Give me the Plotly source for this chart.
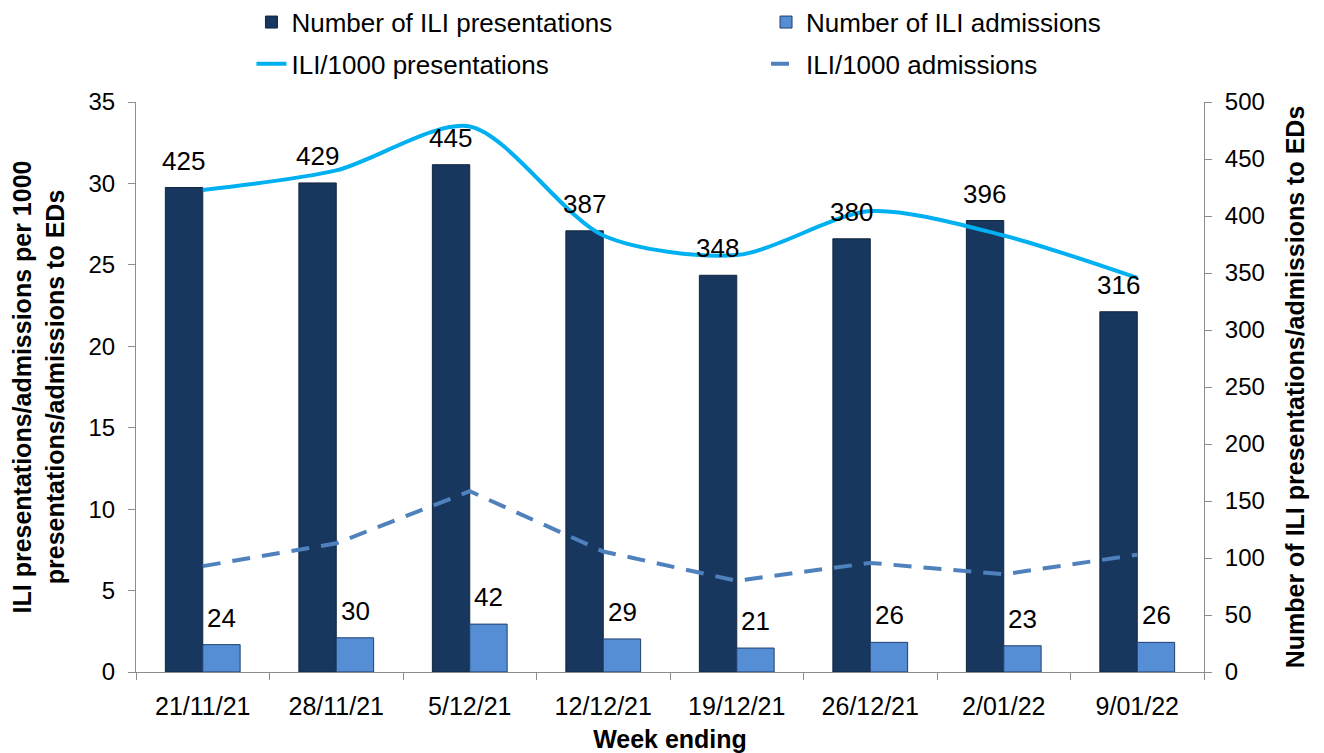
import plotly.graph_objects as go

weeks = ['21/11/21', '28/11/21', '5/12/21', '12/12/21', '19/12/21', '26/12/21', '2/01/22', '9/01/22']
presentations = [425, 429, 445, 387, 348, 380, 396, 316]
admissions = [24, 30, 42, 29, 21, 26, 23, 26]
rate_presentations = [29.6, 30.8, 33.5, 26.8, 25.6, 28.3, 26.8, 24.2]
rate_admissions = [6.5, 7.9, 11.1, 7.4, 5.6, 6.7, 6.0, 7.2]

DARK = '#17375E'
LIGHT = '#558ED5'
FONT = 'Liberation Sans, Arial, sans-serif'

fig = go.Figure()

# bars on the right-hand axis (yaxis, side right) so the lines draw above them
fig.add_trace(go.Bar(x=weeks, y=presentations, name='Number of ILI presentations',
                     marker=dict(color=DARK, line=dict(color='#10263F', width=1)),
                     legend='legend'))
fig.add_trace(go.Bar(x=weeks, y=admissions, name='Number of ILI admissions',
                     marker=dict(color=LIGHT, line=dict(color='#1F3F6E', width=1)),
                     legend='legend2'))

fig.add_trace(go.Scatter(x=weeks, y=rate_presentations, name='ILI/1000 presentations',
                         mode='lines', yaxis='y2', legend='legend3',
                         line=dict(color='#00B0F0', width=4, shape='spline', smoothing=0.8)))
fig.add_trace(go.Scatter(x=weeks, y=rate_admissions, name='ILI/1000 admissions',
                         mode='lines', yaxis='y2', legend='legend4',
                         line=dict(color='#4F81BD', width=4, dash='18px,12px')))

# data labels above each bar
for w, v in zip(weeks, presentations):
    fig.add_annotation(x=w, y=v, xref='x', yref='y', text=str(v), showarrow=False,
                       xshift=-19, yshift=10, yanchor='bottom',
                       font=dict(size=26, color='black', family=FONT))
for w, v in zip(weeks, admissions):
    fig.add_annotation(x=w, y=v, xref='x', yref='y', text=str(v), showarrow=False,
                       xshift=19, yshift=10, yanchor='bottom',
                       font=dict(size=26, color='black', family=FONT))

axis_common = dict(showgrid=False, zeroline=False, showline=True, linecolor='#8C8C8C',
                   linewidth=1, ticks='outside', ticklen=7, tickcolor='#8C8C8C',
                   automargin=False)


def legend_box(x, y):
    return dict(orientation='h', x=x, y=y, xref='container', yref='container',
                xanchor='left', yanchor='middle', bgcolor='rgba(0,0,0,0)',
                font=dict(size=26, family=FONT, color='black'))


# page body has an 8px margin, so the figure is a little smaller than the window
fig.update_layout(
    width=1316, height=745,
    margin=dict(l=128, r=120, t=94, b=81),
    plot_bgcolor='white', paper_bgcolor='white',
    font=dict(family=FONT, color='black'),
    showlegend=True,
    barmode='group', bargap=0.44, bargroupgap=0,
    xaxis=dict(**axis_common, tickson='boundaries', ticklabelstandoff=12,
               tickfont=dict(size=25, color='black', family=FONT),
               title=dict(text='<b>Week ending</b>', font=dict(size=25), standoff=12)),
    yaxis=dict(**axis_common, side='right', range=[0, 500], dtick=50, ticklabelstandoff=8,
               tickfont=dict(size=24, color='black', family=FONT),
               title=dict(text='<b>Number of ILI presentations/admissions to EDs</b>',
                          font=dict(size=25), standoff=22)),
    yaxis2=dict(**axis_common, side='left', overlaying='y', range=[0, 35], dtick=5,
                ticklabelstandoff=8,
                tickfont=dict(size=24, color='black', family=FONT),
                title=dict(text='<b>ILI presentations/admissions per 1000<br>presentations/admissions to EDs</b>',
                           font=dict(size=25), standoff=22)),
    legend=legend_box(0.185, 0.981),
    legend2=legend_box(0.576, 0.981),
    legend3=legend_box(0.185, 0.925),
    legend4=legend_box(0.576, 0.925),
)

fig.write_html('out.html')
